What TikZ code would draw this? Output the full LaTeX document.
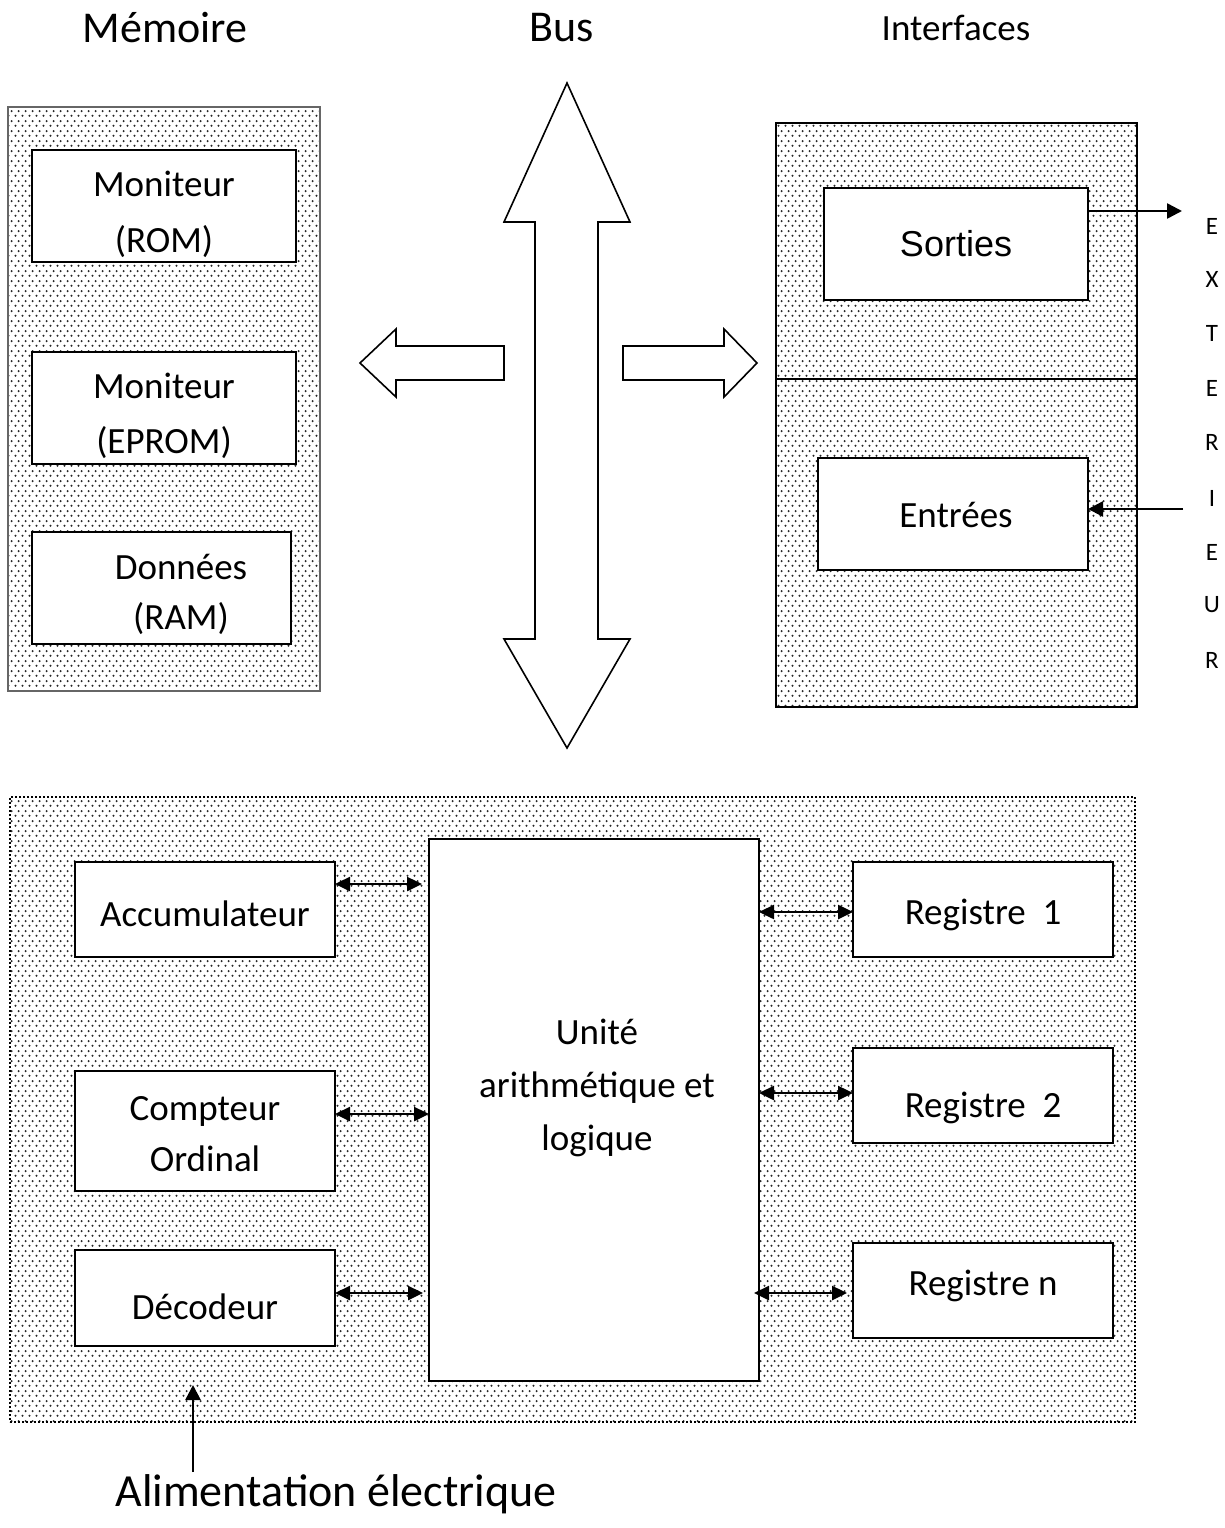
\documentclass[tikz,border=0pt]{standalone}
\usepackage{fontspec}
\setmainfont{Carlito}
\newfontfamily\arialfont{Liberation Sans}
\usetikzlibrary{patterns.meta,arrows.meta}

% speckled fill used for the three groups
\tikzdeclarepattern{
  name=speckle,
  type=uncolored,
  bounding box={(0pt,0pt) and (7pt,10pt)},
  tile size={(7pt,10pt)},
  code={
    \fill (1.75pt,2.5pt) circle (1.25pt);
    \fill (5.25pt,7.5pt) circle (1.25pt);
  }
}

\begin{document}
\begin{tikzpicture}[x=1pt,y=-1pt,
  txt/.style={font=\fontsize{37}{53}\selectfont, align=center, inner sep=0pt},
  box/.style={draw, line width=2pt, fill=white, inner sep=0pt, outer sep=0pt,
              align=center, font=\fontsize{37}{53}\selectfont},
  group/.style={pattern=speckle, pattern color=black!85, inner sep=0pt, outer sep=0pt},
  blockarrow/.style={draw, line width=1.6pt, fill=white, line join=miter},
  arr/.style={line width=2.5pt, -{Triangle[length=15pt,width=15pt]}},
  dbl/.style={line width=2.5pt, {Triangle[length=15pt,width=14pt]}-{Triangle[length=15pt,width=14pt]}},
  letter/.style={font=\fontsize{25}{30}\selectfont, inner sep=0pt}
]
\useasboundingbox (0,0) rectangle (1225,1528);

% column titles
\node[txt, font=\fontsize{44}{53}\selectfont] (tmem) at (165,28) {Mémoire};
\node[txt, font=\fontsize{44}{53}\selectfont] (tbus) at (562,28) {Bus};
\node[txt] (tint) at (956,28) {Interfaces};

% memory group
\node[group, draw=black!60, line width=1.5pt, minimum width=312pt, minimum height=584pt] (mem) at (164,399) {};
\node[box, minimum width=264pt, minimum height=112pt] (rom) at (164,206) {};
\node[txt, font=\fontsize{37}{56}\selectfont] (romtext) at (164,214) {Moniteur\\(ROM)};
\node[box, minimum width=264pt, minimum height=112pt] (eprom) at (164,408) {};
\node[txt, font=\fontsize{37}{55}\selectfont] (epromtext) at (164,416) {Moniteur\\(EPROM)};
\node[box, minimum width=259pt, minimum height=112pt] (ram) at (161.5,588) {};
\node[txt, font=\fontsize{37}{50}\selectfont] (ramtext) at (181,594) {Données\\(RAM)};

% system bus
\draw[blockarrow] (567,83) -- (630,222) -- (598,222) -- (598,639) -- (630,639)
  -- (567,748) -- (504,639) -- (535,639) -- (535,222) -- (504,222) -- cycle;
\draw[blockarrow] (360,363) -- (396,329) -- (396,346) -- (504,346) -- (504,380)
  -- (396,380) -- (396,397) -- cycle;
\draw[blockarrow] (757,363) -- (724,329) -- (724,346) -- (623,346) -- (623,380)
  -- (724,380) -- (724,397) -- cycle;

% interfaces group
\node[group, draw=black, line width=2pt, minimum width=361pt, minimum height=584pt] (iface) at (956.5,415) {};
\draw[line width=2pt] ([yshift=36pt]iface.west) -- ([yshift=36pt]iface.east);
\node[box, minimum width=264pt, minimum height=112pt, font=\arialfont\fontsize{36}{44}\selectfont] (sorties) at (956,244) {Sorties};
\node[box, minimum width=270pt, minimum height=112pt] (entrees) at (953,514) {};
\node[txt] (entext) at (956,515) {Entrées};

% outside world
\coordinate (sortA) at ([yshift=33pt]sorties.east);
\coordinate (outE) at (1182,211);
\draw[arr] (sortA) -- (outE);
\coordinate (inE) at (1183,509);
\draw[arr] (inE) -- (inE -| entrees.east);

\node[letter] (l1) at (1212,226) {E};
\node[letter] (l2) at (1212,279) {X};
\node[letter] (l3) at (1212,333) {T};
\node[letter] (l4) at (1212,388) {E};
\node[letter] (l5) at (1212,442) {R};
\node[letter] (l6) at (1212,498) {I};
\node[letter] (l7) at (1212,552) {E};
\node[letter] (l8) at (1212,605) {U};
\node[letter] (l9) at (1212,660) {R};

% processor group
\node[group, draw=black, line width=2pt, dash pattern=on 2pt off 2pt,
      minimum width=1125pt, minimum height=625pt] (cpu) at (572.5,1109.5) {};
\node[box, minimum width=330pt, minimum height=542pt] (ual) at (594,1110) {};
\node[txt, font=\fontsize{37}{53}\selectfont] (ualtext) at (597,1088) {Unité\\arithmétique et\\logique};

\node[box, minimum width=260pt, minimum height=95pt] (acc) at (205,909.5) {};
\node[txt] (acctext) at (205,914) {Accumulateur};
\node[box, minimum width=260pt, minimum height=120pt] (co) at (205,1131) {};
\node[txt, font=\fontsize{37}{51}\selectfont] (cotext) at (205,1134) {Compteur\\Ordinal};
\node[box, minimum width=260pt, minimum height=96pt] (dec) at (205,1298) {};
\node[txt] (dectext) at (205,1307) {Décodeur};

\node[box, minimum width=260pt, minimum height=95pt] (r1) at (983,909.5) {};
\node[txt] (r1text) at (983,915) {Registre~~1};
\node[box, minimum width=260pt, minimum height=95pt] (r2) at (983,1095.5) {};
\node[txt] (r2text) at (983,1108) {Registre~~2};
\node[box, minimum width=260pt, minimum height=95pt] (rn) at (983,1290.5) {};
\node[txt] (rntext) at (983,1286) {Registre n};

% links to the ALU
\coordinate (ca) at (acc.east |- 0,884);
\draw[dbl, shorten >=7pt] (ca) -- (ca -| ual.west);
\coordinate (cc) at (co.east |- 0,1114);
\draw[dbl] (cc) -- (cc -| ual.west);
\coordinate (cd) at (dec.east |- 0,1293);
\draw[dbl, shorten >=6pt] (cd) -- (cd -| ual.west);
\coordinate (c1) at (ual.east |- 0,912);
\draw[dbl] (c1) -- (c1 -| r1.west);
\coordinate (c2) at (ual.east |- 0,1093);
\draw[dbl] (c2) -- (c2 -| r2.west);
\coordinate (cn) at ([xshift=-5pt]ual.east |- 0,1293);
\draw[dbl, shorten >=6pt] (cn) -- (cn -| rn.west);

% power supply
\coordinate (alim) at (193,1472);
\coordinate (alimtip) at (193,1385);
\draw[arr] (alim) -- (alimtip);
\node[txt, font=\fontsize{46}{53}\selectfont] (alimtext) at (336,1494) {Alimentation électrique};
\end{tikzpicture}
\end{document}
